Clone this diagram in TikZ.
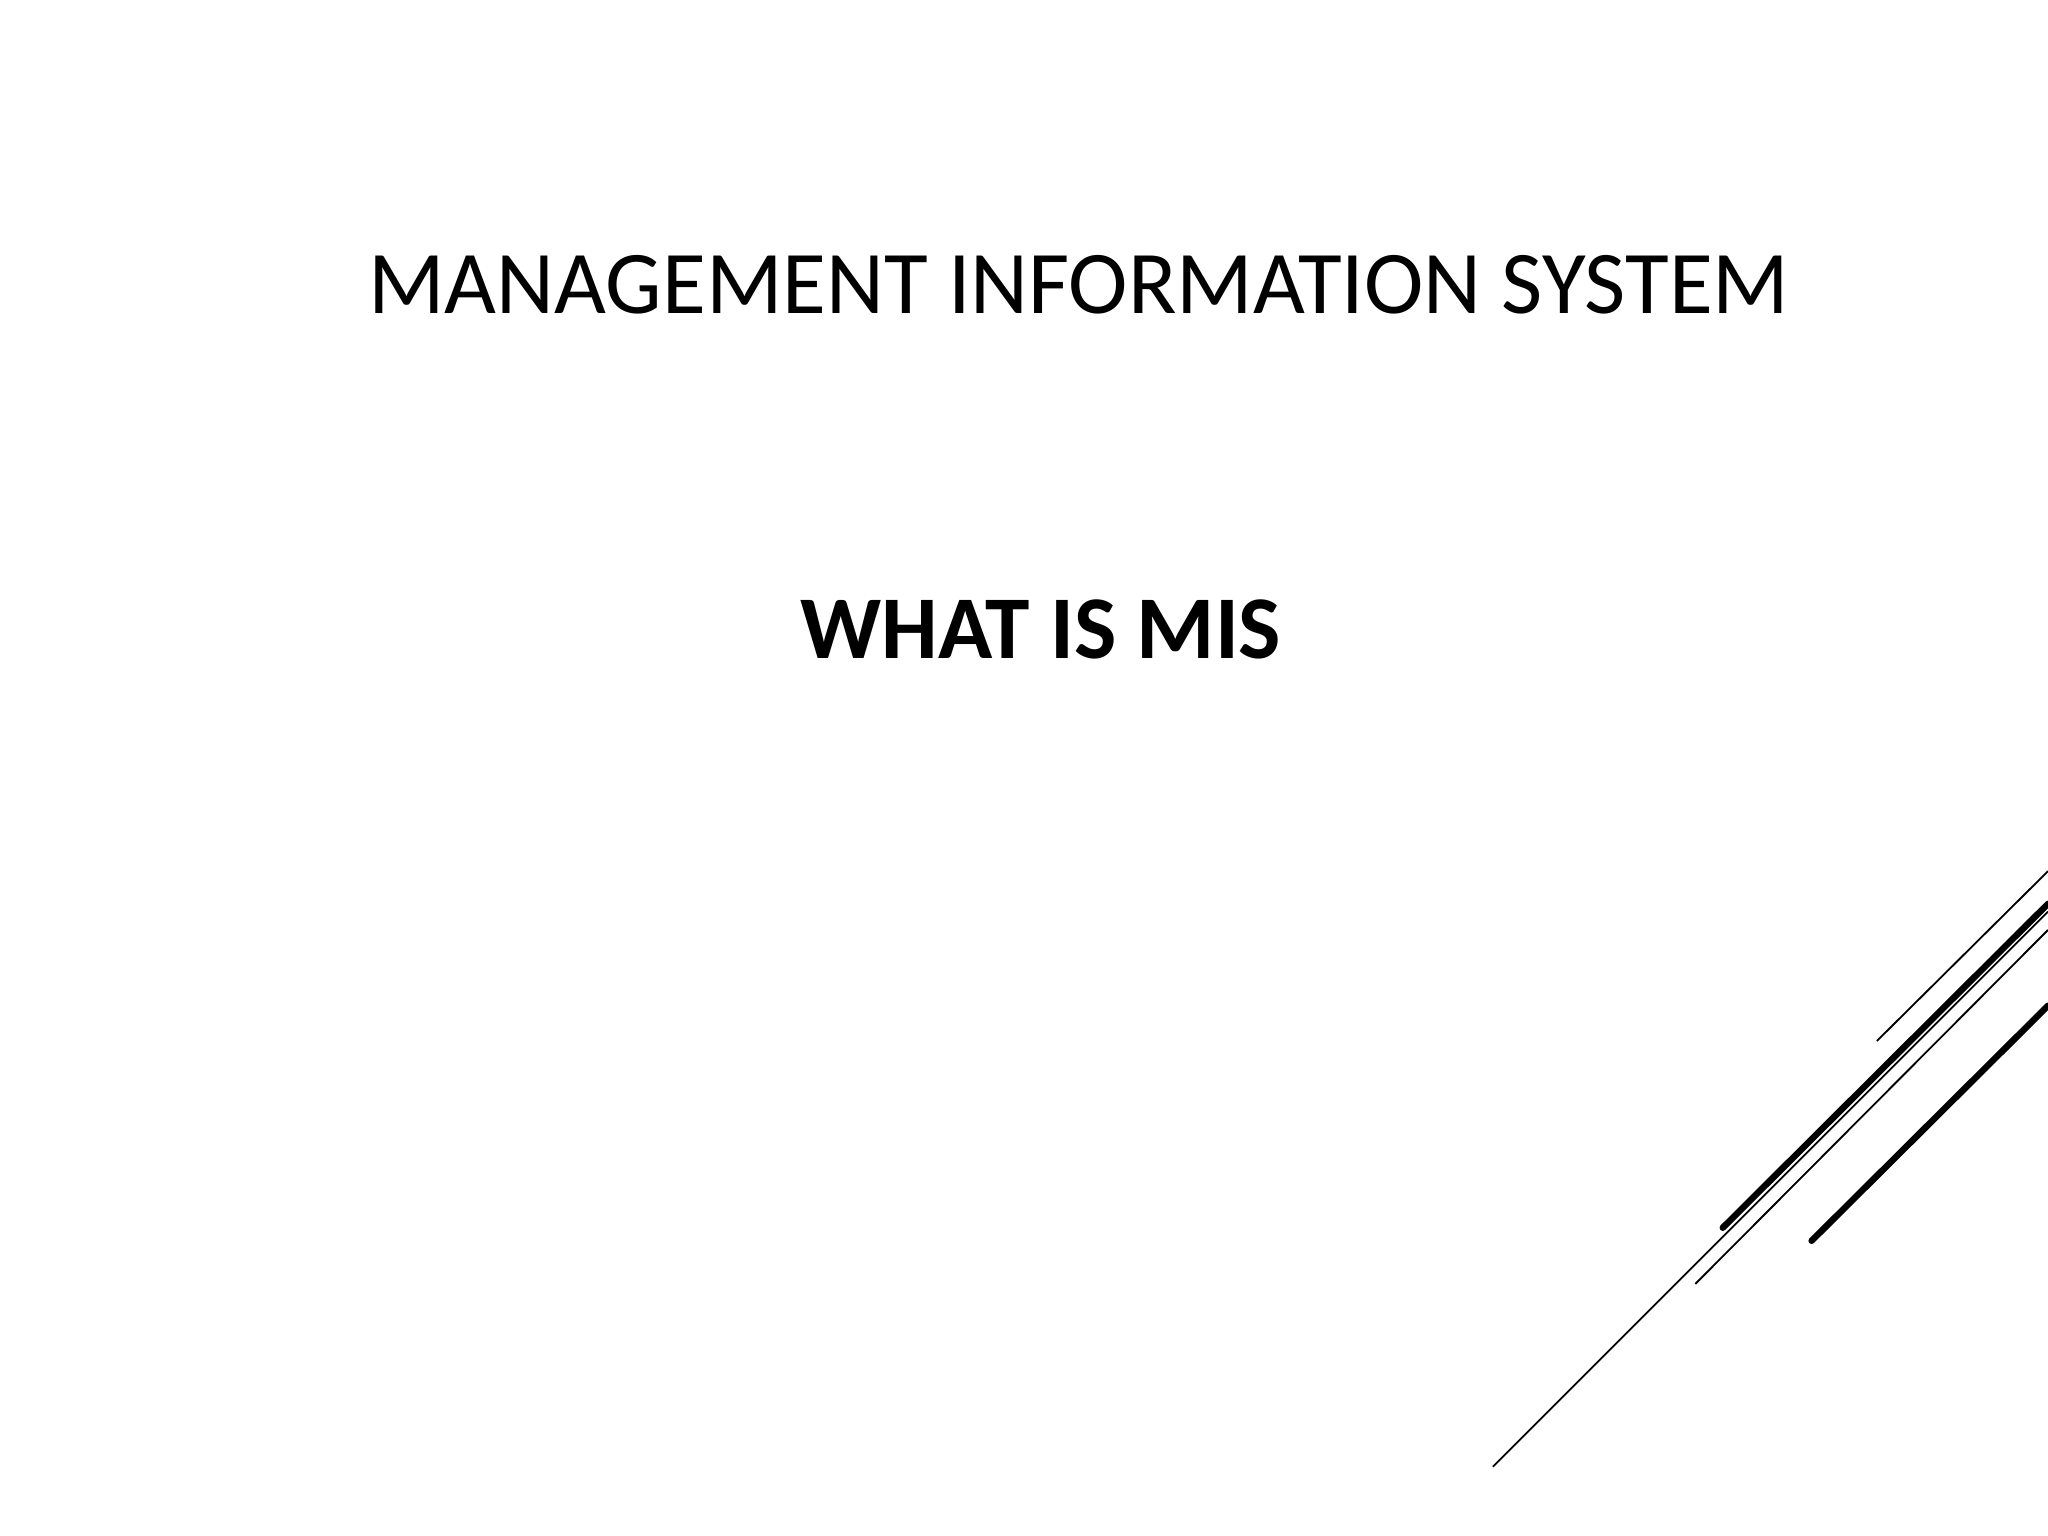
\documentclass[tikz,border=0pt]{standalone}
\usepackage{fontspec}
\setmainfont{Carlito}
\begin{document}
\begin{tikzpicture}[x=0.01cm,y=-0.01cm,
  thinline/.style={line width=0.4pt,black},
  thickline/.style={line width=1.4pt,black,line cap=round}]
\useasboundingbox (0,0) rectangle (1568,1176);
\node (title) at (826,218) {\fontsize{19.5pt}{23pt}\selectfont MANAGEMENT INFORMATION SYSTEM};
\node (sub) at (797,482) {\fontsize{19.5pt}{23pt}\selectfont\bfseries WHAT IS MIS};
\coordinate (a1) at (1437,797); \coordinate (a2) at (1568,667);
\coordinate (b1) at (1319,940); \coordinate (b2) at (1568,692);
\coordinate (c1) at (1298,983); \coordinate (c2) at (1568,712);
\coordinate (d1) at (1387,950); \coordinate (d2) at (1568,770);
\coordinate (e1) at (1143,1123); \coordinate (e2) at (1568,698);
\draw[thinline] (a1) -- (a2);
\draw[thickline] (b1) -- (b2);
\draw[thinline] (c1) -- (c2);
\draw[thickline] (d1) -- (d2);
\draw[thinline] (e1) -- (e2);
\end{tikzpicture}
\end{document}
